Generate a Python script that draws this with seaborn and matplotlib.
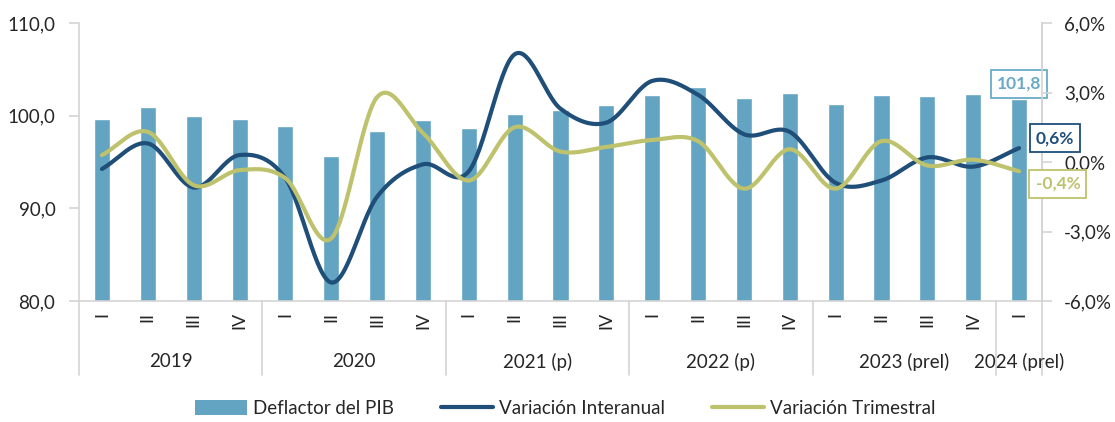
import numpy as np
import pandas as pd
import matplotlib
matplotlib.use("Agg")
import matplotlib.pyplot as plt
import seaborn as sns
from matplotlib.patches import Patch
from matplotlib.lines import Line2D
from matplotlib.ticker import FuncFormatter

# ---------------- data ----------------
quarters = ["I", "II", "III", "IV"] * 5 + ["I"]
years = ["2019", "2020", "2021 (p)", "2022 (p)", "2023 (prel)", "2024 (prel)"]
year_sizes = [4, 4, 4, 4, 4, 1]
deflactor = [99.6, 100.9, 100.0, 99.6, 98.9, 95.7, 98.3, 99.5,
             98.7, 100.2, 100.6, 101.2, 102.2, 103.1, 101.9, 102.4,
             101.3, 102.2, 102.1, 102.3, 101.8]
interanual = [-0.3, 0.8, -1.1, 0.3, -0.7, -5.2, -1.5, -0.1,
              -0.4, 4.65, 2.3, 1.7, 3.5, 2.9, 1.2, 1.3,
              -0.9, -0.8, 0.2, -0.2, 0.6]
trimestral = [0.3, 1.3, -1.0, -0.35, -0.7, -3.3, 2.8, 1.25,
              -0.8, 1.5, 0.45, 0.65, 0.95, 0.9, -1.15, 0.55,
              -1.15, 0.9, -0.15, 0.1, -0.4]

# ---------------- style ----------------
sns.set_theme(style="white")
plt.rcParams["font.family"] = ["Lato", "DejaVu Sans"]

C_BAR = "#62A4C2"
C_NAVY = "#1F4E79"
C_OLIVE = "#BFC26C"
C_GRID = "#D4D4D4"

def catmull_rom(y, n=30):
    y = np.asarray(y, dtype=float)
    x = np.arange(len(y), dtype=float)
    P = np.concatenate([[2 * y[0] - y[1]], y, [2 * y[-1] - y[-2]]])
    xs, ys = [], []
    for i in range(len(y) - 1):
        p0, p1, p2, p3 = P[i], P[i + 1], P[i + 2], P[i + 3]
        t = np.linspace(0, 1, n, endpoint=(i == len(y) - 2))
        yy = 0.5 * ((2 * p1) + (-p0 + p2) * t + (2 * p0 - 5 * p1 + 4 * p2 - p3) * t ** 2
                    + (-p0 + 3 * p1 - 3 * p2 + p3) * t ** 3)
        xs.append(x[i] + t)
        ys.append(yy)
    return np.concatenate(xs), np.concatenate(ys)

fig = plt.figure(figsize=(11.15, 4.22), dpi=100)
ax = fig.add_axes([0.0709, 0.2867, 0.8636, 0.6588])

n = len(deflactor)
df = pd.DataFrame({"pos": np.arange(n), "deflactor": deflactor})
sns.barplot(data=df, x="pos", y="deflactor", color=C_BAR, saturation=1,
            width=0.35, ax=ax, native_scale=True)
ax.set_xlim(-0.5, n - 0.5)
ax.set_ylim(80, 110)
ax.set_yticks([80, 90, 100, 110])
ax.yaxis.set_major_formatter(FuncFormatter(lambda v, p: f"{v:.1f}".replace(".", ",")))
ax.set_xlabel("")
ax.set_ylabel("")
ax.set_xticks(range(n))
ax.set_xticklabels(quarters, rotation=90, fontsize=13)
ax.tick_params(axis="x", length=0, pad=8)
ax.tick_params(axis="y", left=True, length=7, width=1.2, color=C_GRID, labelsize=13.5, pad=10)
ax.spines["top"].set_visible(False)
for s in ["left", "right", "bottom"]:
    ax.spines[s].set_color(C_GRID)
    ax.spines[s].set_linewidth(1.2)

ax2 = ax.twinx()
ax2.set_ylim(-6, 6)
ax2.set_yticks([-6, -3, 0, 3, 6])
ax2.yaxis.set_major_formatter(FuncFormatter(lambda v, p: f"{v:.1f}%".replace(".", ",")))
ax2.tick_params(axis="y", right=True, length=7, width=1.2, color=C_GRID, labelsize=13.5, pad=9)
for s in ["top", "left", "bottom"]:
    ax2.spines[s].set_visible(False)
ax2.spines["right"].set_color(C_GRID)
ax2.spines["right"].set_linewidth(1.2)

xs, ys = catmull_rom(interanual)
sns.lineplot(x=xs, y=ys, color=C_NAVY, lw=3, ax=ax2, sort=False, estimator=None)
xs, ys = catmull_rom(trimestral)
sns.lineplot(x=xs, y=ys, color=C_OLIVE, lw=3, ax=ax2, sort=False, estimator=None)
ax2.set_xlim(-0.5, n - 0.5)

# separators and year labels
trans = ax.get_xaxis_transform()
bounds = np.concatenate([[0], np.cumsum(year_sizes)]) - 0.5
for b in bounds:
    ax.plot([b, b], [0, -0.266], transform=trans, color=C_GRID, lw=1.2, clip_on=False)
start = 0
for yname, sz in zip(years, year_sizes):
    ax.text(start + (sz - 1) / 2, -0.219, yname, transform=trans, ha="center",
            va="center", fontsize=13.5)
    start += sz

# last-value labels
ax.annotate(f"{deflactor[-1]:.1f}".replace(".", ","), xy=(n - 1, deflactor[-1]),
            xytext=(0, 11), textcoords="offset points", ha="center", va="center",
            fontsize=12.5, fontweight="bold", color="#6AAAC8",
            bbox=dict(boxstyle="square,pad=0.35", fc="white", ec="#6AAAC8", lw=1.3))
ax2.annotate(f"{interanual[-1]:.1f}%".replace(".", ","), xy=(n - 1, interanual[-1]),
             xytext=(26, 7), textcoords="offset points", ha="center", va="center",
             fontsize=12.5, fontweight="bold", color=C_NAVY,
             bbox=dict(boxstyle="square,pad=0.35", fc="white", ec=C_NAVY, lw=1.3))
ax2.annotate(f"{trimestral[-1]:.1f}%".replace(".", ","), xy=(n - 1, trimestral[-1]),
             xytext=(28, -9), textcoords="offset points", ha="center", va="center",
             fontsize=12.5, fontweight="bold", color=C_OLIVE,
             bbox=dict(boxstyle="square,pad=0.35", fc="white", ec=C_OLIVE, lw=1.3))

handles = [Patch(facecolor=C_BAR, edgecolor="none"),
           Line2D([0], [0], color=C_NAVY, lw=3),
           Line2D([0], [0], color=C_OLIVE, lw=3)]
labels = ["Deflactor del PIB", "Variación Interanual", "Variación Trimestral"]
fig.legend(handles, labels, loc="center", bbox_to_anchor=(0.507, 0.031), ncol=3,
           frameon=False, fontsize=13.5, handlelength=2.8, handleheight=0.85,
           handletextpad=0.3, columnspacing=2.5)

fig.savefig("out.png", dpi=100)
